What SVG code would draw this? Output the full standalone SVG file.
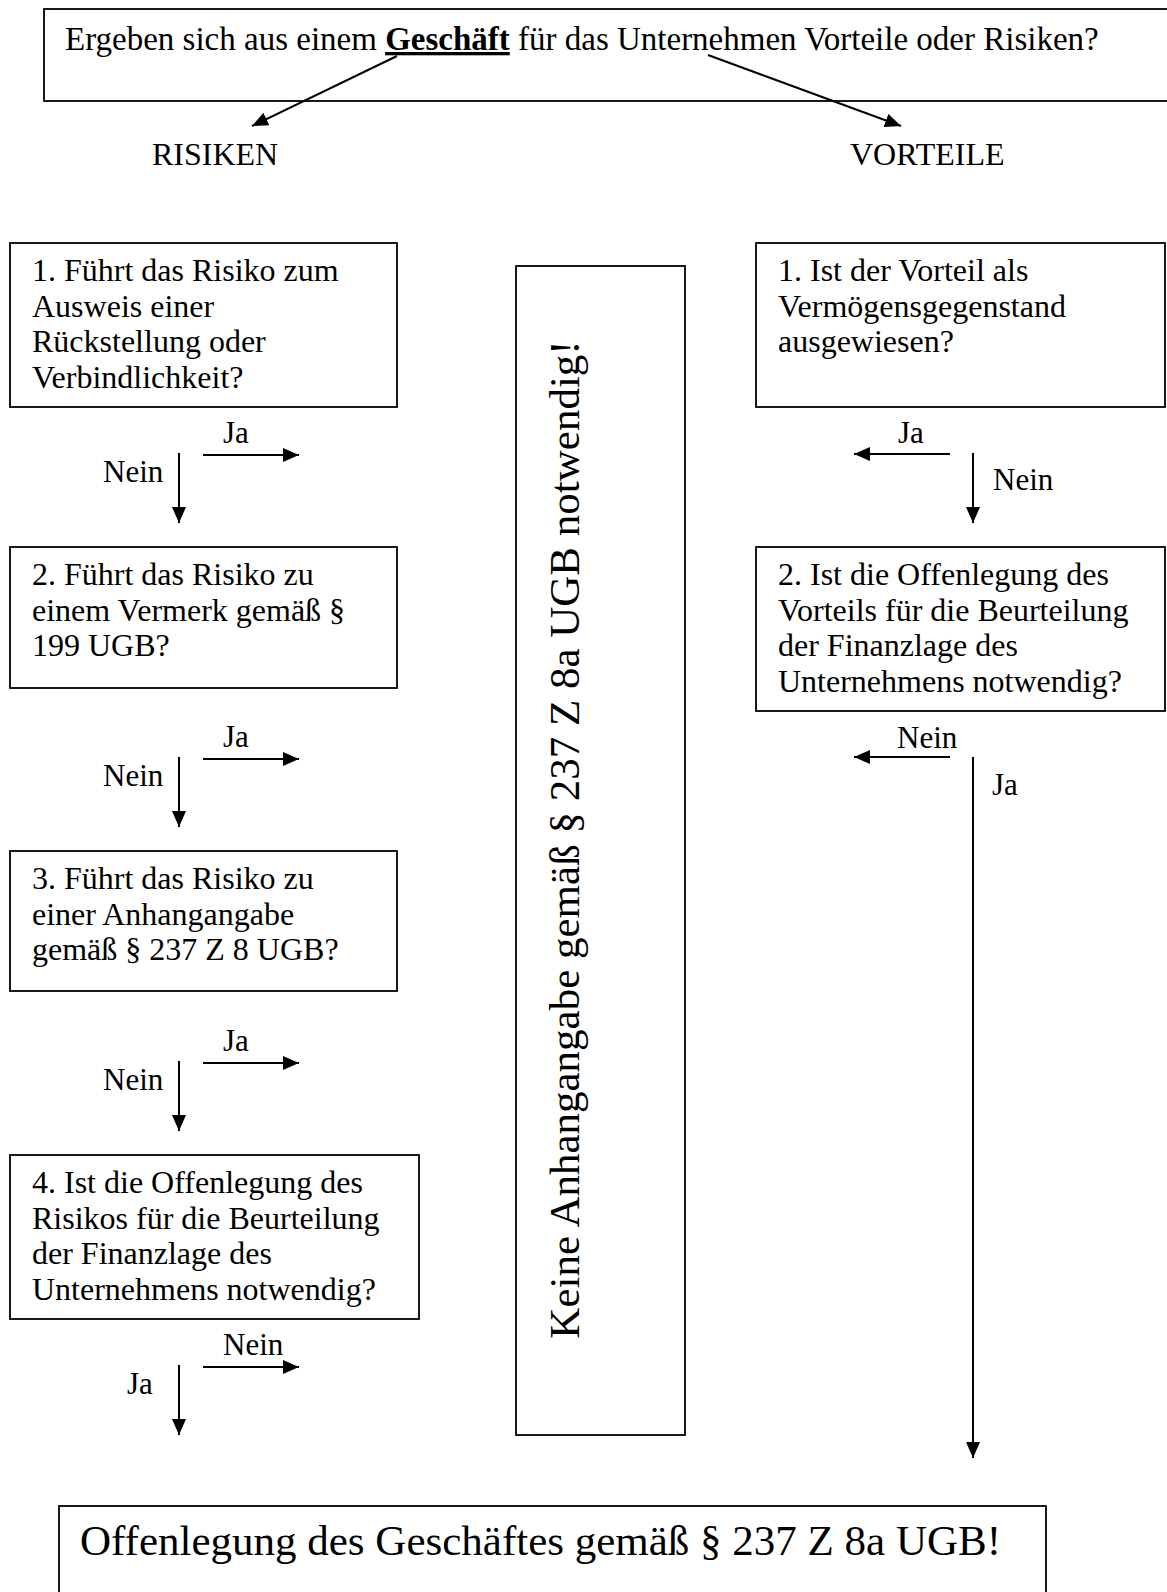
<svg xmlns="http://www.w3.org/2000/svg" width="1167" height="1592" viewBox="0 0 1167 1592">
<style>
  text { font-family: "Liberation Serif", "Times New Roman", serif; fill: #000; }
  .t { font-size: 32px; }
  .lbl { font-size: 31px; }
  .box { fill: #fff; stroke: #000; stroke-width: 1.8; }
  .con { stroke: #000; stroke-width: 2; fill: none; marker-end: url(#ah); }
</style>
<defs>
  <marker id="ah" markerWidth="16" markerHeight="14" refX="16" refY="7" orient="auto" markerUnits="userSpaceOnUse">
    <path d="M0,0 L16,7 L0,14 z" fill="#000"/>
  </marker>
</defs>
<rect width="1167" height="1592" fill="#fff"/>

<g id="top">
  <rect class="box" x="44" y="9" width="1130" height="92" stroke-width="2.2"/>
  <text font-size="33" x="65" y="50">Ergeben sich aus einem <tspan font-weight="bold" text-decoration="underline">Geschäft</tspan> für das Unternehmen Vorteile oder Risiken?</text>
</g>

<g id="risiken"><text class="t" x="152" y="165">RISIKEN</text></g>
<g id="vorteile"><text class="t" x="850" y="165">VORTEILE</text></g>

<g id="r1">
  <rect class="box" x="10" y="243" width="387" height="164"/>
  <text class="t"><tspan x="32" y="281">1. Führt das Risiko zum</tspan><tspan x="32" y="316.5">Ausweis einer</tspan><tspan x="32" y="352">Rückstellung oder</tspan><tspan x="32" y="387.5">Verbindlichkeit?</tspan></text>
</g>
<g id="r2">
  <rect class="box" x="10" y="547" width="387" height="141"/>
  <text class="t"><tspan x="32" y="585">2. Führt das Risiko zu</tspan><tspan x="32" y="620.5">einem Vermerk gemäß §</tspan><tspan x="32" y="656">199 UGB?</tspan></text>
</g>
<g id="r3">
  <rect class="box" x="10" y="851" width="387" height="140"/>
  <text class="t"><tspan x="32" y="889">3. Führt das Risiko zu</tspan><tspan x="32" y="924.5">einer Anhangangabe</tspan><tspan x="32" y="960">gemäß § 237 Z 8 UGB?</tspan></text>
</g>
<g id="r4">
  <rect class="box" x="10" y="1155" width="409" height="164"/>
  <text class="t"><tspan x="32" y="1193">4. Ist die Offenlegung des</tspan><tspan x="32" y="1228.5">Risikos für die Beurteilung</tspan><tspan x="32" y="1264">der Finanzlage des</tspan><tspan x="32" y="1299.5">Unternehmens notwendig?</tspan></text>
</g>

<g id="middle">
  <rect class="box" x="516" y="266" width="169" height="1169"/>
  <text font-size="43" text-anchor="middle" transform="translate(579,839.5) rotate(-90)">Keine Anhangangabe gemäß § 237 Z 8a UGB notwendig!</text>
</g>

<g id="v1">
  <rect class="box" x="756" y="243" width="409" height="164"/>
  <text class="t"><tspan x="778" y="281">1. Ist der Vorteil als</tspan><tspan x="778" y="316.5">Vermögensgegenstand</tspan><tspan x="778" y="352">ausgewiesen?</tspan></text>
</g>
<g id="v2">
  <rect class="box" x="756" y="547" width="409" height="164"/>
  <text class="t"><tspan x="778" y="585">2. Ist die Offenlegung des</tspan><tspan x="778" y="620.5">Vorteils für die Beurteilung</tspan><tspan x="778" y="656">der Finanzlage des</tspan><tspan x="778" y="691.5">Unternehmens notwendig?</tspan></text>
</g>

<g id="result">
  <rect class="box" x="59" y="1506" width="987" height="100"/>
  <text font-size="43" x="80" y="1555">Offenlegung des Geschäftes gemäß § 237 Z 8a UGB!</text>
</g>

<g id="connectors">
  <line class="con" x1="397" y1="56" x2="252" y2="126"/>
  <line class="con" x1="708" y1="55" x2="901" y2="126"/>
  <line class="con" x1="203" y1="455" x2="299" y2="455"/>
  <line class="con" x1="179" y1="453" x2="179" y2="523"/>
  <line class="con" x1="203" y1="759" x2="299" y2="759"/>
  <line class="con" x1="179" y1="757" x2="179" y2="827"/>
  <line class="con" x1="203" y1="1063" x2="299" y2="1063"/>
  <line class="con" x1="179" y1="1061" x2="179" y2="1131"/>
  <line class="con" x1="203" y1="1367" x2="299" y2="1367"/>
  <line class="con" x1="179" y1="1365" x2="179" y2="1435"/>
  <line class="con" x1="950" y1="454" x2="854" y2="454"/>
  <line class="con" x1="973" y1="453" x2="973" y2="523"/>
  <line class="con" x1="950" y1="757" x2="854" y2="757"/>
  <line class="con" x1="973" y1="757" x2="973" y2="1458"/>
  <text class="lbl" x="223" y="443">Ja</text>
  <text class="lbl" x="103" y="482">Nein</text>
  <text class="lbl" x="223" y="747">Ja</text>
  <text class="lbl" x="103" y="786">Nein</text>
  <text class="lbl" x="223" y="1051">Ja</text>
  <text class="lbl" x="103" y="1090">Nein</text>
  <text class="lbl" x="223" y="1355">Nein</text>
  <text class="lbl" x="127" y="1394">Ja</text>
  <text class="lbl" x="898" y="443">Ja</text>
  <text class="lbl" x="993" y="490">Nein</text>
  <text class="lbl" x="897" y="748">Nein</text>
  <text class="lbl" x="992" y="795">Ja</text>
</g>
</svg>
